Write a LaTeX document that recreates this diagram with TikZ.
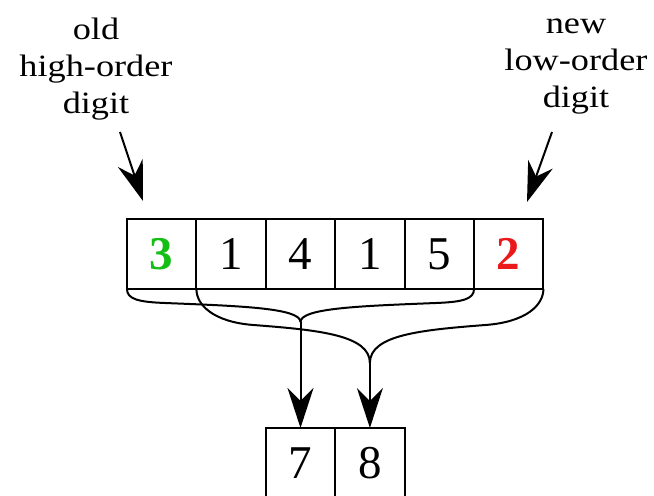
\documentclass[tikz,border=0pt]{standalone}
\usepackage{fontspec}
\setmainfont{Liberation Serif}
\newfontfamily\lblfont[FakeStretch=1.17]{Liberation Serif}
\usepackage{tikz}
\usetikzlibrary{arrows.meta, positioning}
\definecolor{mygreen}{RGB}{20,190,20}
\definecolor{myred}{RGB}{235,25,25}
\tikzset{
  cell/.style={rectangle, draw=black, minimum width=34.7pt, minimum height=35pt,
    inner sep=0pt, outer sep=0pt, line width=1pt, font=\fontsize{23.5}{26}\selectfont},
  lbl/.style={align=center, inner sep=0pt, font=\lblfont\fontsize{15.5}{18.5}\selectfont},
  arrow/.style={-{Stealth[length=20pt, width=13pt, inset=6.5pt]}, line width=1pt},
  line/.style={line width=1pt}
}
\begin{document}
\begin{tikzpicture}[x=0.5pt, y=-0.5pt, node distance=0pt]
  \useasboundingbox (0,0) rectangle (654,496);

  % digit window
  \node[cell] (c1) at (161.7,254) {\bfseries\color{mygreen}3};
  \node[cell, right=of c1] (c2) {1};
  \node[cell, right=of c2] (c3) {4};
  \node[cell, right=of c3] (c4) {1};
  \node[cell, right=of c4] (c5) {5};
  \node[cell, right=of c5] (c6) {\bfseries\color{myred}2};

  % residues
  \node[cell, below=69.5pt of c3] (o1) {7};
  \node[cell, right=of o1] (o2) {8};

  % labels
  \node[lbl, anchor=north] (oldlbl) at (96,18) {old\\high-order\\digit};
  \node[lbl, anchor=north] (newlbl) at (576,18) {new\\low-order\\digit};
  \coordinate (oldtail) at (120,132);
  \coordinate (oldtip) at (143,201);
  \coordinate (newtail) at (552,132);
  \coordinate (newtip) at (527,202);
  \draw[arrow] (oldtail) -- (oldtip);
  \draw[arrow] (newtail) -- (newtip);

  % braces
  \coordinate (tipA) at (o1.north |- 0,322);
  \coordinate (tipB) at (o2.north |- 0,363);
  \draw[line] (c1.south west) .. controls +(0,10) and +(-27,-1) .. ++(38,14)
    .. controls +(75,3) and +(0,-14) .. (tipA);
  \draw[line] (c5.south east) .. controls +(0,10) and +(27,-1) .. ++(-38,14)
    .. controls +(-75,3) and +(0,-14) .. (tipA);
  \draw[line] (c2.south west) .. controls +(0,16) and +(-40,-3) .. ++(57,36)
    .. controls +(65,5) and +(0,-28) .. (tipB);
  \draw[line] (c6.south east) .. controls +(0,16) and +(41,-3) .. ++(-58,36)
    .. controls +(-65,5) and +(0,-28) .. (tipB);
  \draw[arrow] (tipA) -- (o1.north);
  \draw[arrow] (tipB) -- (o2.north);
\end{tikzpicture}
\end{document}
